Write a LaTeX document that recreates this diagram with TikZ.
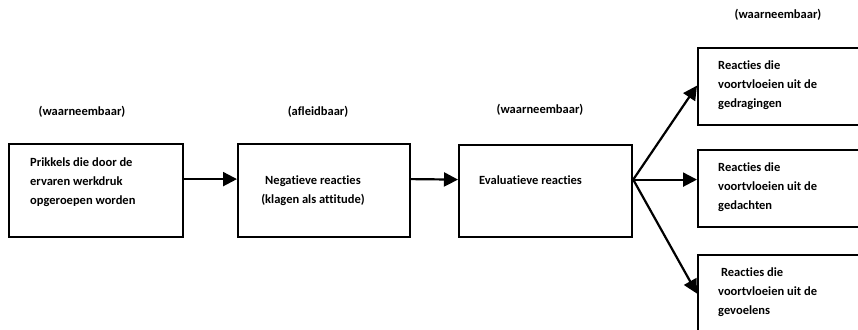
\documentclass[tikz,border=0pt]{standalone}
\usepackage{fontspec}
\setmainfont{Carlito}[Ligatures=CommonOff]
\usetikzlibrary{arrows.meta}
\begin{document}
\begin{tikzpicture}[x=1pt,y=-1pt,
	box/.style={draw,line width=2.2pt,rectangle,anchor=north west,inner sep=0pt},
	txt/.style={font=\bfseries\fontsize{12.5}{19}\selectfont,align=left,inner sep=0pt},
	arr/.style={-{Triangle[length=14pt,width=14pt]},line width=2.2pt}]
		\clip (0,0) rectangle (858,329);
		\node[box,minimum width=174pt,minimum height=93pt] (b1) at (8,143) {};
		\node[box,minimum width=172pt,minimum height=93pt] (b2) at (237,143) {};
		\node[box,minimum width=173pt,minimum height=92pt] (b3) at (458,144) {};
		\node[box,minimum width=190pt,minimum height=77pt] (b4) at (697,47) {};
		\node[box,minimum width=190pt,minimum height=77pt] (b5) at (697,149) {};
		\node[box,minimum width=190pt,minimum height=77pt] (b6) at (697,254) {};
		\node[txt,anchor=center] (l1) at (82,112) {(waarneembaar)};
		\node[txt,anchor=center] (l2) at (318,112) {(afleidbaar)};
		\node[txt,anchor=center] (l3) at (540,110) {(waarneembaar)};
		\node[txt,anchor=center] (l4) at (778,15) {(waarneembaar)};
		\node[txt,anchor=west] (t1) at (30,182) {Prikkels die door de\\ervaren werkdruk\\opgeroepen worden};
		\node[txt,align=center] (t2) at (313,191) {Negatieve reacties\\(klagen als attitude)};
		\node[txt,anchor=west] (t3) at (479,180) {Evaluatieve reacties};
		\node[txt,anchor=west] (t4) at (718,85) {Reacties die\\voortvloeien uit de\\gedragingen};
		\node[txt,anchor=west] (t5) at (718,187) {Reacties die\\voortvloeien uit de\\gedachten};
		\node[txt,anchor=west] (t6) at (718,292) {\ Reacties die\\voortvloeien uit de\\gevoelens};
		\coordinate (fork) at ([yshift=11.5pt]b3.east);
		\draw[arr] ([yshift=11.5pt]b1.east) -- ([yshift=11.5pt]b2.west);
		\draw[arr] ([yshift=11.5pt]b2.east) -- ([yshift=11.5pt]b3.west);
		\draw[arr] (fork) -- ([yshift=1pt]b4.west);
		\draw[arr] (fork) -- (b5.west |- fork);
		\draw[arr] (fork) -- (b6.west);
	\end{tikzpicture}
\end{document}
